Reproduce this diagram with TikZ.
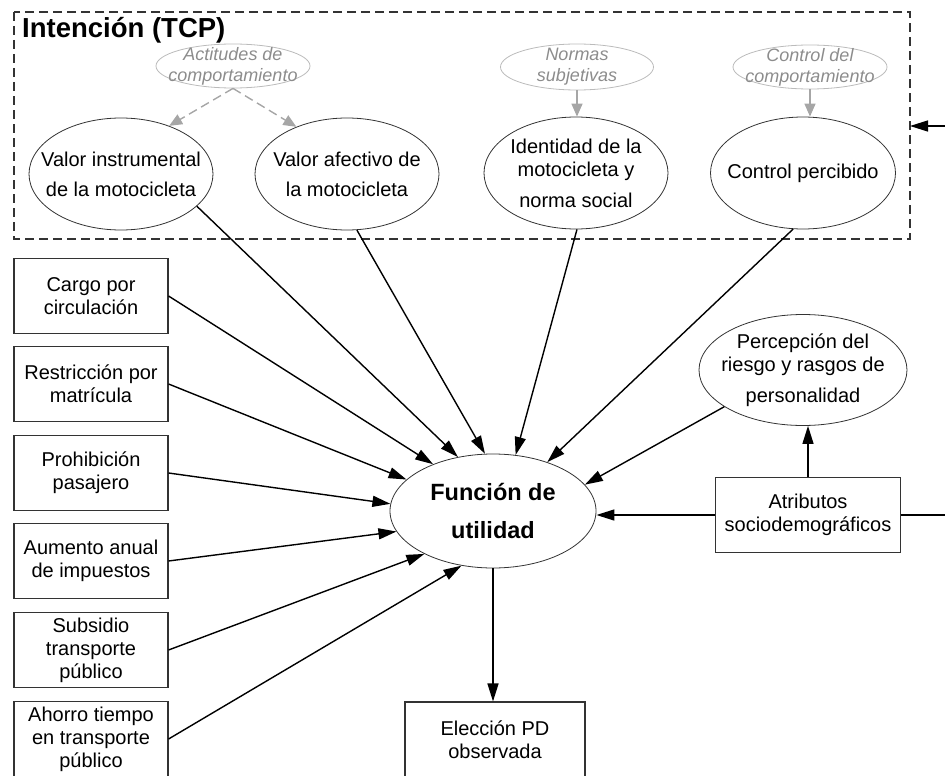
\documentclass[tikz,border=0pt]{standalone}
\usepackage{fontspec}
\setmainfont{Liberation Sans}
\usetikzlibrary{shapes.geometric,arrows.meta,positioning}
\definecolor{borde}{HTML}{333333}
\definecolor{gristexto}{HTML}{8C8C8C}
\definecolor{grisborde}{HTML}{BBBBBB}
\definecolor{grisflecha}{HTML}{A6A6A6}
\tikzset{
  caja/.style={draw=borde, line width=1.1pt, minimum width=154pt, minimum height=75pt,
    inner sep=0pt, align=center, font=\fontsize{20}{23}\selectfont},
  texto/.style={inner sep=0pt, align=center, font=\fontsize{20}{23}\selectfont},
  elipse/.style={ellipse, draw=borde, line width=0.8pt, inner sep=0pt,
    minimum width=184pt, minimum height=112pt, label={[texto]center:{#1}}},
  latente/.style={ellipse, draw=grisborde, line width=0.8pt, inner sep=0pt,
    minimum width=154pt, minimum height=44pt,
    label={[texto, text=gristexto, font=\fontsize{18}{21}\selectfont\itshape]center:{#1}}},
  flecha/.style={line width=1.4pt, -{Triangle[length=18pt,width=11pt]}},
  flechagris/.style={line width=1.4pt, draw=grisflecha, -{Triangle[length=13pt,width=11pt]}}
}
\begin{document}
\begin{tikzpicture}[x=1pt, y=-1pt]
   \useasboundingbox (0,0) rectangle (945,776);
   % marco de la intencion
   \draw[borde, line width=1.3pt, dash pattern=on 9pt off 5pt] (14,12) rectangle (910,239);
   \node[anchor=north west, inner sep=0pt, font=\fontsize{27.5}{30}\selectfont\bfseries] (titulo) at (22,17) {Intención (TCP)};
   \coordinate (entrada) at (910,126);
   % constructos latentes
   \node[latente={Actitudes de\\comportamiento}] (act) at (233,66) {};
   \node[latente={Normas\\subjetivas}, minimum width=153pt, minimum height=46pt] (norm) at (577,67) {};
   \node[latente={Control del\\comportamiento}] (ctrl) at (810,67) {};
   % elipses de la TCP
   \node[elipse={Valor instrumental\\[7pt]de la motocicleta}] (vi) at (121,174) {};
   \node[elipse={Valor afectivo de\\[7pt]la motocicleta}] (va) at (347,174) {};
   \node[elipse={Identidad de la\\motocicleta y\\[8pt]norma social}] (id) at (576,173) {};
   \node[elipse={Control percibido}, minimum width=185pt] (cp) at (803,173) {};
   % atributos de las politicas
   \node[caja] (cargo) at (91,296) {Cargo por\\circulación};
   \node[caja] (restr) at (91,384) {Restricción por\\matrícula};
   \node[caja] (prohib) at (91,473) {Prohibición\\pasajero};
   \node[caja] (aum) at (91,561) {Aumento anual\\de impuestos};
   \node[caja] (subs) at (91,650) {Subsidio\\transporte\\público};
   \node[caja] (ahorro) at (91,739) {Ahorro tiempo\\en transporte\\público};
   % centro y resto
   \node[ellipse, draw=borde, line width=0.8pt, inner sep=0pt, minimum width=206pt, minimum height=114pt,
      label={[texto, font=\fontsize{23.5}{24}\selectfont\bfseries]center:{Función de\\[14pt]utilidad}}] (fu) at (493,511) {};
   \node[elipse={Percepción del\\riesgo y rasgos de\\[8pt]personalidad}, minimum width=208pt, minimum height=111pt] (perc) at (803,370) {};
   \node[caja, minimum width=185pt] (atr) at (808,515) {Atributos\\sociodemográficos};
   \node[caja, minimum width=180pt, minimum height=76pt] (elec) at (495,740) {Elección PD\\observada};
   % flechas grises
   \draw[flechagris, dash pattern=on 9pt off 5pt] (act.south) -- (vi.45);
   \draw[flechagris, dash pattern=on 9pt off 5pt] (act.south) -- (va.137);
   \draw[flechagris] (norm.south) -- (norm.south |- id.north);
   \draw[flechagris] (ctrl.south) -- (ctrl.south |- cp.north);
   % flechas hacia la funcion de utilidad
   \foreach \desde/\hasta in {vi.-23/123, va.-80/98, id.-89/68, cp.-100/42, perc.-155/16,
         cargo.east/142, restr.east/160, prohib.east/176, aum.east/192, subs.east/212, ahorro.east/240}
      \draw[flecha] (\desde) -- (fu.\hasta);
   \draw[flecha] (atr.west) -- (atr.west -| fu.east);
   \draw[flecha] (atr.north) -- (atr.north |- perc.south);
   \draw[flecha] (fu.south) -- (fu.south |- elec.north);
   \draw[flecha] (atr.east) -- ++(60,0) |- (entrada);
\end{tikzpicture}
\end{document}
